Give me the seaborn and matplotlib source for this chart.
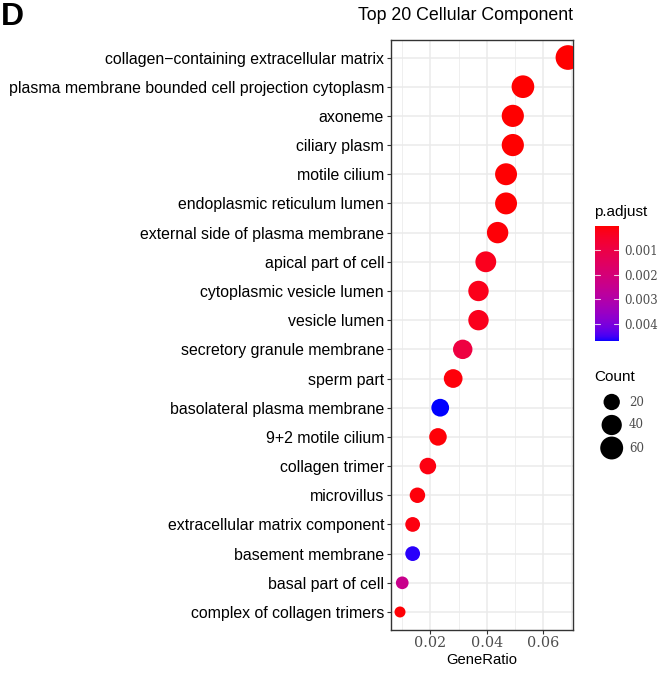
import numpy as np
import pandas as pd
import matplotlib
matplotlib.use("Agg")
import matplotlib.pyplot as plt
from matplotlib.colors import ListedColormap, Normalize
import seaborn as sns

# ---------------- data ----------------
terms = [
    "collagen\u2212containing extracellular matrix",
    "plasma membrane bounded cell projection cytoplasm",
    "axoneme",
    "ciliary plasm",
    "motile cilium",
    "endoplasmic reticulum lumen",
    "external side of plasma membrane",
    "apical part of cell",
    "cytoplasmic vesicle lumen",
    "vesicle lumen",
    "secretory granule membrane",
    "sperm part",
    "basolateral plasma membrane",
    "9+2 motile cilium",
    "collagen trimer",
    "microvillus",
    "extracellular matrix component",
    "basement membrane",
    "basal part of cell",
    "complex of collagen trimers",
]
gene_ratio = [0.0689, 0.0529, 0.0493, 0.0493, 0.0469, 0.0469, 0.0439, 0.0397,
              0.0371, 0.0371, 0.0315, 0.0281, 0.0235, 0.0227, 0.0191, 0.0154,
              0.0137, 0.0137, 0.0100, 0.0092]
counts = [76, 58, 54, 54, 52, 52, 48, 44, 41, 41, 35, 31, 26, 25, 21, 17,
          15, 15, 11, 10]
p_adjust = [0.00001, 0.00002, 0.00002, 0.00002, 0.00003, 0.00004, 0.00008, 0.00030,
            0.00025, 0.00028, 0.00090, 0.00010, 0.00470, 0.00008, 0.00015, 0.00010,
            0.00012, 0.00462, 0.00240, 0.00006]
x_ticks = [0.02, 0.04, 0.06]
cbar_ticks = [0.001, 0.002, 0.003, 0.004]
size_breaks = [20, 40, 60]

df = pd.DataFrame({"Description": terms, "GeneRatio": gene_ratio,
                   "Count": counts, "p.adjust": p_adjust})

# ---------------- Lab gradient red -> blue (like ggplot) ----------------
def srgb_to_lab(rgb):
    rgb = np.asarray(rgb, float)
    lin = np.where(rgb <= 0.04045, rgb / 12.92, ((rgb + 0.055) / 1.055) ** 2.4)
    M = np.array([[0.4124, 0.3576, 0.1805], [0.2126, 0.7152, 0.0722], [0.0193, 0.1192, 0.9505]])
    xyz = M @ lin
    wp = np.array([0.95047, 1.0, 1.08883])
    t = xyz / wp
    f = np.where(t > 216 / 24389, np.cbrt(t), (24389 / 27 * t + 16) / 116)
    return np.array([116 * f[1] - 16, 500 * (f[0] - f[1]), 200 * (f[1] - f[2])])

def lab_to_srgb(lab):
    L, a, b = lab
    fy = (L + 16) / 116
    fx = fy + a / 500
    fz = fy - b / 200
    def finv(f):
        return f ** 3 if f ** 3 > 216 / 24389 else (116 * f - 16) / (24389 / 27)
    wp = np.array([0.95047, 1.0, 1.08883])
    xyz = np.array([finv(fx), finv(fy), finv(fz)]) * wp
    Minv = np.array([[3.2406, -1.5372, -0.4986], [-0.9689, 1.8758, 0.0415], [0.0557, -0.2040, 1.0570]])
    lin = np.clip(Minv @ xyz, 0, 1)
    rgb = np.where(lin <= 0.0031308, 12.92 * lin, 1.055 * lin ** (1 / 2.4) - 0.055)
    return np.clip(rgb, 0, 1)

lab_lo = srgb_to_lab([1, 0, 0])
lab_hi = srgb_to_lab([0, 0, 1])
cols = [lab_to_srgb(lab_lo + (lab_hi - lab_lo) * t) for t in np.linspace(0, 1, 256)]
cmap = ListedColormap(cols)
pmin, pmax = min(p_adjust), max(p_adjust)
norm = Normalize(pmin, pmax)

# size mapping similar to ggplot scale_size(range=c(3,8)) -> diameter
cmin, cmax = min(counts), max(counts)
def diam_px(c):
    t = (c - cmin) / (cmax - cmin)
    return 11.0 + 13.7 * np.sqrt(t)
def area_pt2(c):
    return (diam_px(c) * 0.72) ** 2
size_map = {c: area_pt2(c) for c in sorted(set(counts))}

# ---------------- figure ----------------
sns.set_theme(style="white")
plt.rcParams["font.family"] = ["Liberation Sans", "DejaVu Sans"]
plt.rcParams["text.color"] = "black"
plt.rcParams["axes.labelcolor"] = "black"

W, H = 662, 677
fig = plt.figure(figsize=(W / 100, H / 100), dpi=100)
def box(x0, y0, x1, y1):
    return [x0 / W, 1 - y1 / H, (x1 - x0) / W, (y1 - y0) / H]

ax = fig.add_axes(box(391, 40, 573, 629.5))
order = list(reversed(terms))
df["ypos"] = [order.index(t) for t in df["Description"]]

sns.scatterplot(data=df, x="GeneRatio", y="ypos", hue="p.adjust", palette=cmap,
                hue_norm=norm, size="Count", sizes=size_map, legend=False,
                edgecolor="none", linewidth=0, ax=ax, zorder=3, clip_on=True)

ax.set_ylim(-0.6, len(terms) - 0.4)
ax.set_xlim(0.006, 0.0707)
ax.set_yticks(range(len(terms)))
ax.set_yticklabels(order, fontsize=11.45, color="black")
ax.set_xticks(x_ticks)
ax.set_xticklabels([f"{v:.2f}" for v in x_ticks], fontsize=10.3, family="DejaVu Serif", color="#4D4D4D")
ax.set_xticks([0.01, 0.03, 0.05, 0.07], minor=True)
ax.grid(True, which="major", color="#EBEBEB", linewidth=1.1, zorder=0)
ax.grid(True, which="minor", axis="x", color="#EBEBEB", linewidth=0.55, zorder=0)
ax.set_axisbelow(True)
ax.tick_params(axis="both", which="major", length=3, width=0.8, color="#333333", pad=2, left=True, bottom=True)
ax.tick_params(axis="x", which="minor", length=0)
for sp in ax.spines.values():
    sp.set_color("#333333")
    sp.set_linewidth(1.0)
ax.set_xlabel("GeneRatio", fontsize=10.6, color="black", labelpad=2)
ax.set_ylabel("")

# title and panel tag
fig.text(573 / W, 1 - 16 / H, "Top 20 Cellular Component", ha="right", va="center", fontsize=12.8, color="black")
fig.text(1 / W, 1 - 17 / H, "D", ha="left", va="center", fontsize=23, fontweight="bold", color="black")

# colorbar (red = low p.adjust at top)
cax = fig.add_axes(box(595, 226, 619, 341))
yy = np.linspace(pmin, pmax, 257)
cax.pcolormesh([0, 1], yy, ((yy[:-1] + yy[1:]) / 2).reshape(-1, 1), cmap=cmap, norm=norm, shading="flat")
cax.set_ylim(pmax, pmin)
cax.set_xlim(0, 1)
for t in cbar_ticks:
    cax.plot([0, 0.2], [t, t], color="white", lw=0.8, alpha=0.8)
    cax.plot([0.8, 1], [t, t], color="white", lw=0.8, alpha=0.8)
cax.set_xticks([])
cax.yaxis.tick_right()
cax.set_yticks(cbar_ticks)
cax.set_yticklabels([f"{t:.3f}" for t in cbar_ticks], family="DejaVu Serif", fontsize=8.5, color="#4D4D4D")
cax.tick_params(axis="y", length=0, pad=4)
for sp in cax.spines.values():
    sp.set_visible(False)
fig.text(594 / W, 1 - 212 / H, "p.adjust", ha="left", va="center", fontsize=11)

# size legend
fig.text(594 / W, 1 - 377 / H, "Count", ha="left", va="center", fontsize=11)
lax = fig.add_axes(box(595, 390, 660, 460))
lax.set_xlim(595, 660)
lax.set_ylim(460, 390)
lax.axis("off")
legend_y = [402, 425, 448]
for b, yv in zip(size_breaks, legend_y):
    lax.scatter([611.7], [yv], s=area_pt2(b), color="black", edgecolor="none")
    lax.text(629, yv, str(b), ha="left", va="center", family="DejaVu Serif", fontsize=8.5, color="#4D4D4D")

fig.savefig("out.png", dpi=100, facecolor="white")
